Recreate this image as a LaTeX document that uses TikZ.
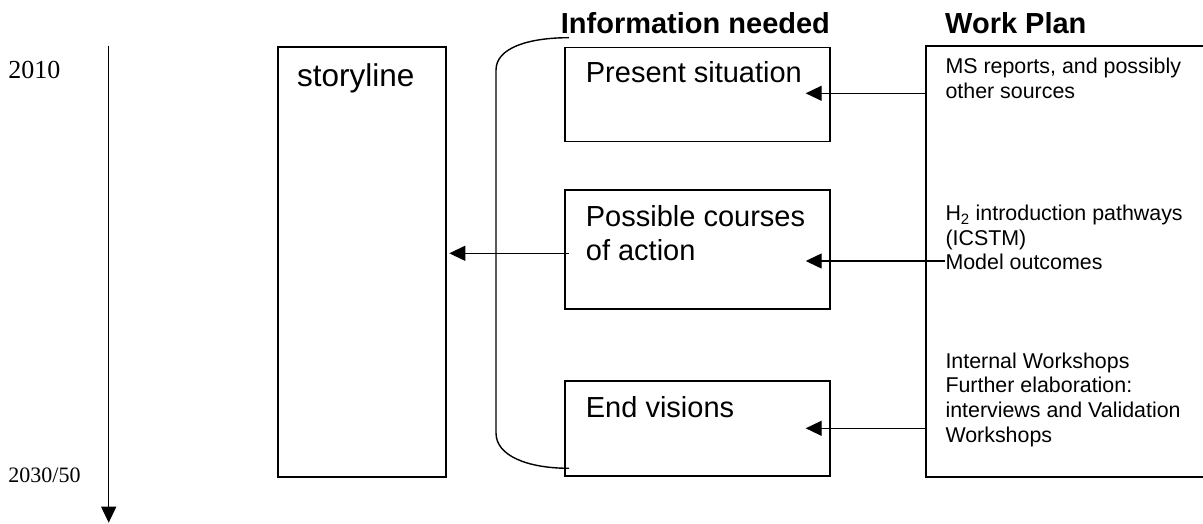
\documentclass[tikz,border=0pt]{standalone}
\usepackage{fontspec}
\setmainfont{Liberation Sans}
\newfontfamily\yearfont{Liberation Serif}
\usetikzlibrary{arrows.meta}
% left-aligned multi-line block whose baseline is the first line
\newcommand\stack[1]{\begin{tabular}[t]{@{}l@{}}#1\end{tabular}}

\begin{document}
\begin{tikzpicture}[x=1pt,y=-1pt,
  box/.style={draw, line width=1.8pt, rectangle, inner sep=0pt, anchor=north west},
  big/.style={font=\fontsize{29}{33.4}\selectfont, inner sep=0pt, anchor=base west},
  head/.style={font=\fontsize{29}{33.4}\selectfont\bfseries, inner sep=0pt, anchor=base west},
  small/.style={font=\fontsize{21.4}{24.6}\selectfont, inner sep=0pt, anchor=base west},
  year/.style={inner sep=0pt, anchor=base west},
  arr/.style={line width=1.3pt, -{Triangle[length=16pt,width=15pt]}},
  link/.style={line width=1.4pt}
]
\useasboundingbox (0,0) rectangle (1203,524);
\clip (0,0) rectangle (1203,524);

% time axis
\node[year, font=\yearfont\fontsize{26}{30}\selectfont] (y-start) at (8.3,79) {2010};
\node[year, font=\yearfont\fontsize{22}{26}\selectfont] (y-end) at (8.3,482.3) {2030/50};
\coordinate (tl-top) at (108.7,46);
\coordinate (tl-end) at (108.7,522.7);
\draw[arr] (tl-top) -- (tl-end);

% boxes
\node[box, minimum width=168pt, minimum height=430pt] (story) at (277,46) {};
\node[box, minimum width=265pt, minimum height=94pt] (present) at (564.3,46.7) {};
\node[box, minimum width=265pt, minimum height=119pt] (courses) at (564.3,189.3) {};
\node[box, minimum width=265pt, minimum height=95pt] (endv) at (564.3,380) {};
\node[box, minimum width=300pt, minimum height=430.7pt] (wp) at (925,45) {};

% headings
\node[head] (info-h) at (560.7,33.3) {Information needed};
\node[head] (wp-h) at (945,33.3) {Work Plan};

% box texts
\node[big, font=\fontsize{31.5}{36}\selectfont] (story-t) at (297,86.5) {storyline};
\node[big] (present-t) at (585.7,83) {Present situation};
\node[big] (courses-t) at (585.7,226.7) {\stack{Possible courses\\of action}};
\node[big] (endv-t) at (585.7,417.3) {End visions};

% work plan entries
\node[small] (wp1) at (945.3,74) {\stack{MS reports, and possibly\\other sources}};
\node[small] (wp2) at (945.3,220.7) {\stack{H\textsubscript{2} introduction pathways\\(ICSTM)\\Model outcomes}};
\node[small] (wp3) at (945.3,368.3) {\stack{Internal Workshops\\Further elaboration:\\interviews and Validation\\Workshops}};

% work plan feeds the information boxes
\coordinate (tipA) at (805.7,93.3);
\draw[arr] (wp.west |- tipA) -- (tipA);
\coordinate (tipB) at (805.7,261);
\coordinate (startB) at (945,261);
\draw[arr] (startB) -- (tipB);
\coordinate (tipC) at (805.7,428.3);
\draw[arr] (wp.west |- tipC) -- (tipC);

% information feeds the storyline
\coordinate (tipS) at (449.3,253.3);
\coordinate (startS) at (569,253.3);
\draw[arr] (startS) -- (tipS);

% bracket grouping the information boxes
\coordinate (br-top) at (569,37.7);
\coordinate (br-bot) at (569,468.3);
\draw[link] (br-top) .. controls (528,37.7) and (496,48) .. (496,70)
  -- (496,433) .. controls (496,456) and (528,468.3) .. (br-bot);
\end{tikzpicture}
\end{document}
